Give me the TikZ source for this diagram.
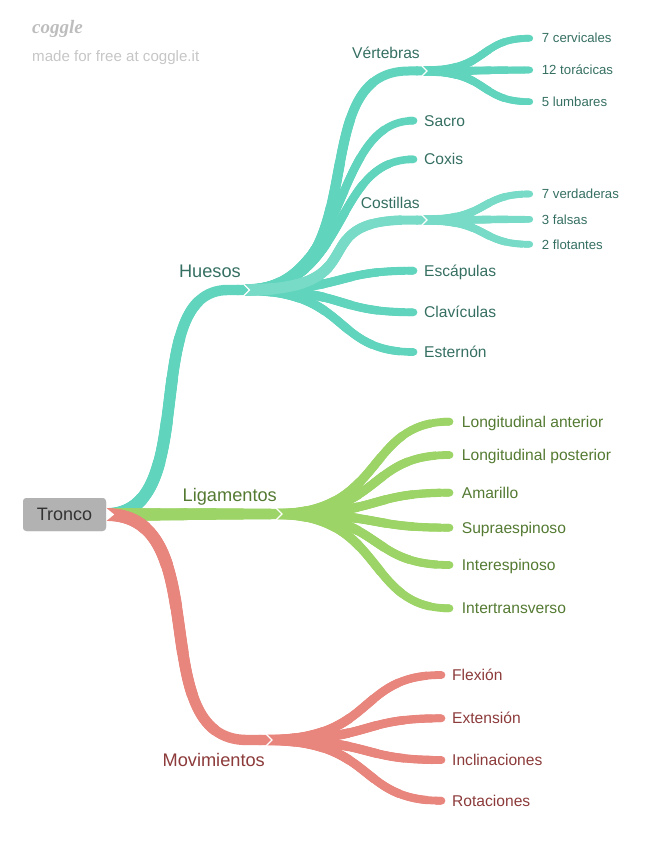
\documentclass[tikz,border=0pt]{standalone}
\usepackage{fontspec}
\setmainfont{Liberation Sans}
\newfontfamily\logofont{Liberation Serif}
\usetikzlibrary{arrows.meta,calc}
\definecolor{tealc}{HTML}{60D4BD}
\definecolor{teallight}{HTML}{78DBC7}
\definecolor{greenc}{HTML}{9DD468}
\definecolor{redc}{HTML}{E8857D}
\definecolor{tealtext}{HTML}{356F62}
\definecolor{greentext}{HTML}{547A32}
\definecolor{redtext}{HTML}{8C3A3A}
\definecolor{boxgray}{HTML}{B2B2B2}
\definecolor{boxtext}{HTML}{333333}
\definecolor{logogray}{HTML}{BDBDBD}
\definecolor{logogray2}{HTML}{C6C6C6}
% one thicker layer covering the first part (#8) of a branch, to make it taper
\newcommand\taperlayer[8]{\draw[#1, line width={(#2)*1pt}, line cap=butt] let \p1=(#3), \p2=(#4), \n1={\x2-\x1}, \n2={#8*1.1*veclen(\x2-\x1,\y2-\y1)} in [dash pattern=on \n2 off 10000pt] (\p1) .. controls ({\x1+#5*\n1},\y1) and ({\x1+#6*\n1},\y2) .. ({\x1+#7*\n1},\y2) -- (\p2);}
% branch: colour, end width, from, to, control fractions, end of curve fraction
\newcommand\branch[7]{%
  \taperlayer{#1}{#2+2.4}{#3}{#4}{#5}{#6}{#7}{0.14}%
  \taperlayer{#1}{#2+2.0}{#3}{#4}{#5}{#6}{#7}{0.28}%
  \taperlayer{#1}{#2+1.6}{#3}{#4}{#5}{#6}{#7}{0.42}%
  \taperlayer{#1}{#2+1.2}{#3}{#4}{#5}{#6}{#7}{0.57}%
  \taperlayer{#1}{#2+0.8}{#3}{#4}{#5}{#6}{#7}{0.71}%
  \taperlayer{#1}{#2+0.4}{#3}{#4}{#5}{#6}{#7}{0.85}%
  \draw[#1, line width={(#2)*1pt}, -{Triangle Cap[]}, line join=round] let \p1=(#3), \p2=(#4), \n1={\x2-\x1} in (\p1) .. controls ({\x1+#5*\n1},\y1) and ({\x1+#6*\n1},\y2) .. ({\x1+#7*\n1},\y2) -- (\p2);}
\newcommand\leafbr[4]{\branch{#1}{#2}{#3}{#4}{0.62}{0.5}{0.98}}
\newcommand\midbr[4]{\branch{#1}{#2}{#3}{#4}{0.75}{0.3}{0.9}}
\newcommand\topbr[4]{\branch{#1}{#2}{#3}{#4}{0.68}{0.21}{0.85}}
% white chevron along the pointed end of a parent branch (tip at #1, width #2)
\newcommand\notch[2]{\draw[white, line width=1.1pt, line join=miter] let \p1=(#1) in ({\x1-#2/2-0.6},{\y1+#2/2+0.6}) -- ({\x1},\y1) -- ({\x1-#2/2-0.6},{\y1-#2/2-0.6});}
\tikzset{
  lab1/.style={inner sep=0pt, font=\fontsize{18.2}{20}\selectfont},
  lab2/.style={inner sep=0pt, font=\fontsize{15.6}{18}\selectfont},
  lab3/.style={inner sep=0pt, font=\fontsize{13.2}{15}\selectfont},
  rootbox/.style={fill=boxgray, rounded corners=3.5pt, minimum width=83pt, minimum height=33pt, inner sep=0pt, text=boxtext, font=\fontsize{18}{20}\selectfont}
}
\begin{document}
\begin{tikzpicture}[x=1pt, y=-1pt]
\useasboundingbox (0,0) rectangle (650,848);
% root
\node[rootbox] (tronco) at (64.5,514.5) {Tronco};
\coordinate (r0) at (tronco.east);
% junction tips (end of parent) and child starts
\coordinate (hues) at (249.5,290);  \coordinate (huesS) at (244,290);
\coordinate (liga) at (282,514);    \coordinate (ligaS) at (276.5,514);
\coordinate (movi) at (272,740);    \coordinate (moviS) at (266.5,740);
\coordinate (vert) at (427,71);     \coordinate (vertS) at (422.5,71);
\coordinate (cost) at (427,220);    \coordinate (costS) at (422.5,220);
% leaf ends
\coordinate (cerv) at (532,38.3);
\coordinate (tora) at (532,70);
\coordinate (lumb) at (532,101.7);
\coordinate (verd) at (532,194);
\coordinate (fals) at (532,219.3);
\coordinate (flot) at (532,244.3);
\coordinate (sacr) at (417,120.7);
\coordinate (coxi) at (417,159.3);
\coordinate (esca) at (417,270.7);
\coordinate (clav) at (417,312.3);
\coordinate (este) at (417,352);
\coordinate (lant) at (453,421.7);
\coordinate (lpos) at (453,455);
\coordinate (amar) at (453,492.7);
\coordinate (supr) at (453,527.7);
\coordinate (inte) at (453,565);
\coordinate (intt) at (453,608.3);
\coordinate (flex) at (445,675);
\coordinate (exte) at (445,718.3);
\coordinate (incl) at (445,760);
\coordinate (rota) at (445,800.7);
% level 3
\leafbr{tealc}{6.6}{vertS}{cerv}
\leafbr{tealc}{6.6}{vertS}{tora}
\leafbr{tealc}{6.6}{vertS}{lumb}
\leafbr{teallight}{6.6}{costS}{verd}
\leafbr{teallight}{6.6}{costS}{fals}
\leafbr{teallight}{6.6}{costS}{flot}
% level 2 under Huesos
\leafbr{tealc}{7.6}{huesS}{esca}
\leafbr{tealc}{7.6}{huesS}{clav}
\leafbr{tealc}{7.6}{huesS}{este}
\leafbr{tealc}{7.6}{huesS}{coxi}
\leafbr{tealc}{7.6}{huesS}{sacr}
\midbr{tealc}{9}{huesS}{vert}
\midbr{teallight}{9}{huesS}{cost}
\notch{vert}{9}
\notch{cost}{9}
% Ligamentos leaves
\leafbr{greenc}{7.8}{ligaS}{lant}
\leafbr{greenc}{7.8}{ligaS}{lpos}
\leafbr{greenc}{7.8}{ligaS}{amar}
\leafbr{greenc}{7.8}{ligaS}{supr}
\leafbr{greenc}{7.8}{ligaS}{inte}
\leafbr{greenc}{7.8}{ligaS}{intt}
% Movimientos leaves
\leafbr{redc}{7.8}{moviS}{flex}
\leafbr{redc}{7.8}{moviS}{exte}
\leafbr{redc}{7.8}{moviS}{incl}
\leafbr{redc}{7.8}{moviS}{rota}
% level 1
\topbr{tealc}{10.4}{r0}{hues}
\topbr{greenc}{10.4}{r0}{liga}
\topbr{redc}{10.4}{r0}{movi}
\notch{hues}{10.4}
\notch{liga}{10.4}
\notch{movi}{10.4}
\fill[white] let \p1=(r0) in ({\x1},{\y1+6.5}) -- ({\x1+8},\y1) -- ({\x1},{\y1-6.5}) -- cycle;
\node[rootbox] at (tronco) {Tronco};
% labels level 1
\node[lab1, text=tealtext, anchor=base east] (nhues) at (241,277) {Huesos};
\node[lab1, text=greentext, anchor=base east] (nliga) at (277,501.5) {Ligamentos};
\node[lab1, text=redtext, anchor=base east] (nmovi) at (265,766.5) {Movimientos};
% labels level 2
\node[lab2, text=tealtext, anchor=base east] (nvert) at (420,58.5) {Vértebras};
\node[lab2, text=tealtext, anchor=base east] (ncost) at (420,208) {Costillas};
\node[lab2, text=tealtext, anchor=base west] (nsacr) at (424,126.2) {Sacro};
\node[lab2, text=tealtext, anchor=base west] (ncoxi) at (424,164.8) {Coxis};
\node[lab2, text=tealtext, anchor=base west] (nesca) at (424,276.2) {Escápulas};
\node[lab2, text=tealtext, anchor=base west] (nclav) at (424,317.8) {Clavículas};
\node[lab2, text=tealtext, anchor=base west] (neste) at (424,357.5) {Esternón};
% small leaves
\node[lab3, text=tealtext, anchor=base west] (ncerv) at (541.7,43) {7 cervicales};
\node[lab3, text=tealtext, anchor=base west] (ntora) at (541.7,74.7) {12 torácicas};
\node[lab3, text=tealtext, anchor=base west] (nlumb) at (541.7,106.4) {5 lumbares};
\node[lab3, text=tealtext, anchor=base west] (nverd) at (541.7,198.7) {7 verdaderas};
\node[lab3, text=tealtext, anchor=base west] (nfals) at (541.7,224) {3 falsas};
\node[lab3, text=tealtext, anchor=base west] (nflot) at (541.7,249) {2 flotantes};
% Ligamentos leaves
\node[lab2, text=greentext, anchor=base west] (nlant) at (461.7,427.2) {Longitudinal anterior};
\node[lab2, text=greentext, anchor=base west] (nlpos) at (461.7,460.5) {Longitudinal posterior};
\node[lab2, text=greentext, anchor=base west] (namar) at (461.7,498.2) {Amarillo};
\node[lab2, text=greentext, anchor=base west] (nsupr) at (461.7,533.2) {Supraespinoso};
\node[lab2, text=greentext, anchor=base west] (ninte) at (461.7,570.5) {Interespinoso};
\node[lab2, text=greentext, anchor=base west] (nintt) at (461.7,613.8) {Intertransverso};
% Movimientos leaves
\node[lab2, text=redtext, anchor=base west] (nflex) at (452,680.5) {Flexión};
\node[lab2, text=redtext, anchor=base west] (nexte) at (452,723.8) {Extensión};
\node[lab2, text=redtext, anchor=base west] (nincl) at (452,765.5) {Inclinaciones};
\node[lab2, text=redtext, anchor=base west] (nrota) at (452,806.2) {Rotaciones};
% logo
\node[inner sep=0pt, anchor=base west, text=logogray, font=\logofont\bfseries\itshape\fontsize{19}{20}\selectfont] (logo) at (32,33.3) {coggle};
\node[inner sep=0pt, anchor=base west, text=logogray2, font=\fontsize{15.1}{17}\selectfont] (made) at (32,61.5) {made for free at coggle.it};
\end{tikzpicture}
\end{document}
